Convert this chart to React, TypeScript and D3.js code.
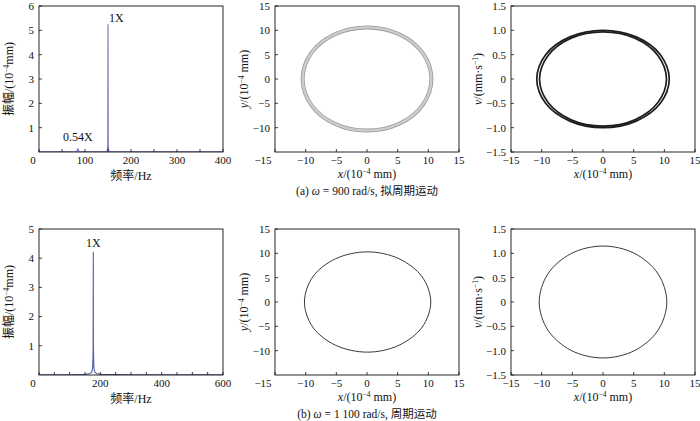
import React from 'react';
import { scaleLinear, line, curveCatmullRomClosed, curveLinear, format, range } from 'd3';

// spectrum (a): omega = 900 rad/s
const specAFreq = [0, 40, 80, 83, 84.5, 86, 89, 148, 149.5, 150, 150.5, 152, 250, 400];
const specAAmp = [0.01, 0.01, 0.01, 0.04, 0.15, 0.04, 0.01, 0.01, 0.25, 5.25, 0.25, 0.01, 0.01, 0.01];

// spectrum (b): omega = 1100 rad/s
const specBFreq = [0, 100, 150, 165, 172, 175, 176.5, 177, 177.5, 179, 182, 190, 205, 300, 600];
const specBAmp = [0.01, 0.01, 0.02, 0.04, 0.1, 0.25, 0.9, 4.22, 0.9, 0.25, 0.1, 0.04, 0.02, 0.01, 0.005];

// orbit (a) x-y, centre line of the gray ring
const orbitAX = [10.5, 9.1, 5.25, 0, -5.25, -9.1, -10.5, -9.1, -5.25, 0, 5.25, 9.1];
const orbitAY = [0, 5.3, 9.2, 10.6, 9.2, 5.3, 0, -5.3, -9.2, -10.6, -9.2, -5.3];

// phase (a) x-v, outer and inner loops
const phaseAOuterX = [10.8, 9.35, 5.4, 0, -5.4, -9.35, -10.8, -9.35, -5.4, 0, 5.4, 9.35];
const phaseAOuterV = [0, 0.5, 0.865, 1.0, 0.865, 0.5, 0, -0.5, -0.865, -1.0, -0.865, -0.5];
const phaseAInnerX = [10.35, 8.95, 5.2, 0, -5.2, -8.95, -10.35, -8.95, -5.2, 0, 5.2, 8.95];
const phaseAInnerV = [0, 0.485, 0.84, 0.97, 0.84, 0.485, 0, -0.485, -0.84, -0.97, -0.84, -0.485];

// orbit (b) x-y
const orbitBX = [10.4, 9.0, 5.2, 0.1, -5.1, -8.85, -10.2, -8.85, -5.1, 0.1, 5.2, 9.0];
const orbitBY = [0, 5.15, 8.9, 10.3, 8.9, 5.15, 0, -5.15, -8.9, -10.3, -8.9, -5.15];

// phase (b) x-v
const phaseBX = [10.4, 9.0, 5.2, 0, -5.2, -9.0, -10.4, -9.0, -5.2, 0, 5.2, 9.0];
const phaseBV = [0, 0.575, 0.995, 1.15, 0.995, 0.575, 0, -0.575, -0.995, -1.15, -0.995, -0.575];

const specATicks = [0, 100, 200, 300, 400];
const specAYTicks = [1, 2, 3, 4, 5, 6];
const specBTicks = [0, 200, 400, 600];
const specBYTicks = [1, 2, 3, 4, 5];
const dispTicks = [-15, -10, -5, 0, 5, 10, 15];
const dispYTicks = [-10, -5, 0, 5, 10, 15];
const velTicks = [-1.5, -1.0, -0.5, 0, 0.5, 1.0, 1.5];

const captions = ['900 rad/s, 拟周期运动', '1 100 rad/s, 周期运动'];

const COL_LEFT = [39, 275, 511];
const ROW_TOP = [6, 229];
const W = 184;
const H = 146;
const FONT = '"Liberation Serif", "Noto Sans CJK SC", serif';

type Scale = ReturnType<typeof scaleLinear>;

function Sup({ children }: { children: string }) {
  return (
    <tspan fontSize={7.5} dy={-4}>
      {children}
    </tspan>
  );
}

function Frame({
  left, top, x, y, xTicks, yTicks, xMinor, yFmt, xFirstDx, children,
}: {
  left: number; top: number; x: Scale; y: Scale; xTicks: number[]; yTicks: number[];
  xMinor?: number[]; yFmt: (d: number) => string; xFirstDx?: number; children?: React.ReactNode;
}) {
  return (
    <g transform={`translate(${left},${top})`}>
      <clipPath id={`clip-${left}-${top}`}>
        <rect x={0} y={0} width={W} height={H} />
      </clipPath>
      <g clipPath={`url(#clip-${left}-${top})`}>{children}</g>
      <rect x={0} y={0} width={W} height={H} fill="none" stroke="#111" strokeWidth={0.9} />
      {(xMinor || []).map((t) => (
        <line key={'m' + t} x1={x(t)} x2={x(t)} y1={H} y2={H - 3} stroke="#111" strokeWidth={0.8} />
      ))}
      {xTicks.map((t, i) => (
        <g key={'x' + t}>
          <line x1={x(t)} x2={x(t)} y1={H} y2={H - 3} stroke="#111" strokeWidth={0.8} />
          <text x={x(t) + (i === 0 ? xFirstDx || 0 : 0)} y={H + 12} textAnchor="middle" fontSize={11}>
            {format('d')(t)}
          </text>
        </g>
      ))}
      {yTicks.map((t) => (
        <g key={'y' + t}>
          <line x1={0} x2={3} y1={y(t)} y2={y(t)} stroke="#111" strokeWidth={0.8} />
          <text x={-5} y={y(t)} dy="0.35em" textAnchor="end" fontSize={11}>
            {yFmt(t)}
          </text>
        </g>
      ))}
    </g>
  );
}

function zip(a: number[], b: number[]): [number, number][] {
  return a.map((v, i) => [v, b[i]]);
}

export default function App() {
  const xA = scaleLinear().domain([0, 400]).range([0, W]);
  const yA = scaleLinear().domain([0, 6]).range([H, 0]);
  const xB = scaleLinear().domain([0, 600]).range([0, W]);
  const yB = scaleLinear().domain([0, 5]).range([H, 0]);
  const xd = scaleLinear().domain([-15, 15]).range([0, W]);
  const yd = scaleLinear().domain([-15, 15]).range([H, 0]);
  const yv = scaleLinear().domain([-1.5, 1.5]).range([H, 0]);

  const intFmt = (d: number) => format('d')(d);
  const velFmt = (d: number) => (d === 0 ? '0' : format('.1f')(d));

  const specLine = (xs: Scale, ys: Scale) =>
    line<[number, number]>().x((d) => xs(d[0])).y((d) => ys(d[1])).curve(curveLinear);
  const loop = (xs: Scale, ys: Scale) =>
    line<[number, number]>().x((d) => xs(d[0])).y((d) => ys(d[1])).curve(curveCatmullRomClosed);

  const minorA = range(50, 400, 100);
  const minorB = range(50, 600, 50).filter((d) => d % 200 !== 0);

  const rows = [0, 1];

  return (
    <svg
      width={700}
      height={421}
      style={{ position: 'absolute', left: 0, top: 0, background: '#fff' }}
      fontFamily={FONT}
      fill="#111"
    >
      {/* row (a) */}
      <Frame left={COL_LEFT[0]} top={ROW_TOP[0]} x={xA} y={yA} xTicks={specATicks} yTicks={specAYTicks}
        xMinor={minorA} yFmt={intFmt} xFirstDx={-6}>
        <path d={specLine(xA, yA)(zip(specAFreq, specAAmp)) || ''} fill="none" stroke="#7a6cc0" strokeWidth={1.1} />
      </Frame>
      <text x={COL_LEFT[0] + xA(150) + 1} y={ROW_TOP[0] + yA(5.25) - 2} fontSize={12}>1X</text>
      <text x={COL_LEFT[0] + xA(84.5)} y={ROW_TOP[0] + yA(0.15) - 7} fontSize={12} textAnchor="middle">0.54X</text>

      <Frame left={COL_LEFT[1]} top={ROW_TOP[0]} x={xd} y={yd} xTicks={dispTicks} yTicks={dispYTicks}
        yFmt={intFmt} xFirstDx={-12}>
        <path d={loop(xd, yd)(zip(orbitAX, orbitAY)) || ''} fill="none" stroke="#9c9c9c" strokeWidth={4} />
        <path d={loop(xd, yd)(zip(orbitAX, orbitAY)) || ''} fill="none" stroke="#cdcdcd" strokeWidth={2.4} />
      </Frame>

      <Frame left={COL_LEFT[2]} top={ROW_TOP[0]} x={xd} y={yv} xTicks={dispTicks} yTicks={velTicks} yFmt={velFmt}>
        <path d={loop(xd, yv)(zip(phaseAOuterX, phaseAOuterV)) || ''} fill="none" stroke="#1d1d1d" strokeWidth={1.7} />
        <path d={loop(xd, yv)(zip(phaseAInnerX, phaseAInnerV)) || ''} fill="none" stroke="#1d1d1d" strokeWidth={1.7} />
      </Frame>

      {/* row (b) */}
      <Frame left={COL_LEFT[0]} top={ROW_TOP[1]} x={xB} y={yB} xTicks={specBTicks} yTicks={specBYTicks}
        xMinor={minorB} yFmt={intFmt} xFirstDx={-6}>
        <path d={specLine(xB, yB)(zip(specBFreq, specBAmp)) || ''} fill="none" stroke="#5660aa" strokeWidth={1.1} />
      </Frame>
      <text x={COL_LEFT[0] + xB(177)} y={ROW_TOP[1] + yB(4.22) - 5} fontSize={12} textAnchor="middle">1X</text>

      <Frame left={COL_LEFT[1]} top={ROW_TOP[1]} x={xd} y={yd} xTicks={dispTicks} yTicks={dispYTicks}
        yFmt={intFmt} xFirstDx={-12}>
        <path d={loop(xd, yd)(zip(orbitBX, orbitBY)) || ''} fill="none" stroke="#222" strokeWidth={0.9} />
      </Frame>

      <Frame left={COL_LEFT[2]} top={ROW_TOP[1]} x={xd} y={yv} xTicks={dispTicks} yTicks={velTicks} yFmt={velFmt}>
        <path d={loop(xd, yv)(zip(phaseBX, phaseBV)) || ''} fill="none" stroke="#222" strokeWidth={0.9} />
      </Frame>

      {/* axis titles and captions */}
      {rows.map((r) => {
        const top = ROW_TOP[r];
        const midY = top + H / 2;
        return (
          <g key={r} fontSize={12}>
            <text transform={`translate(9,${midY}) rotate(-90)`} textAnchor="middle" dy="0.35em">
              振幅/(10<Sup>−4</Sup><tspan dy={4}>mm)</tspan>
            </text>
            <text x={COL_LEFT[0] + W / 2} y={top + H + 28} textAnchor="middle">频率/Hz</text>

            <text transform={`translate(244,${midY}) rotate(-90)`} textAnchor="middle" dy="0.35em">
              <tspan fontStyle="italic">y</tspan>/(10<Sup>−4</Sup><tspan dy={4}> mm)</tspan>
            </text>
            <text x={COL_LEFT[1] + W / 2} y={top + H + 26} textAnchor="middle">
              <tspan fontStyle="italic">x</tspan>/(10<Sup>−4</Sup><tspan dy={4}> mm)</tspan>
            </text>

            <text transform={`translate(478,${midY}) rotate(-90)`} textAnchor="middle" dy="0.35em">
              <tspan fontStyle="italic">v</tspan>/(mm·s<Sup>−1</Sup><tspan dy={4}>)</tspan>
            </text>
            <text x={COL_LEFT[2] + W / 2} y={top + H + 26} textAnchor="middle">
              <tspan fontStyle="italic">x</tspan>/(10<Sup>−4</Sup><tspan dy={4}> mm)</tspan>
            </text>

            <text x={COL_LEFT[1] + W / 2} y={top + H + 43} textAnchor="middle" fontSize={11.5}>
              ({r === 0 ? 'a' : 'b'}) <tspan fontStyle="italic">ω</tspan> = {captions[r]}
            </text>
          </g>
        );
      })}
    </svg>
  );
}
